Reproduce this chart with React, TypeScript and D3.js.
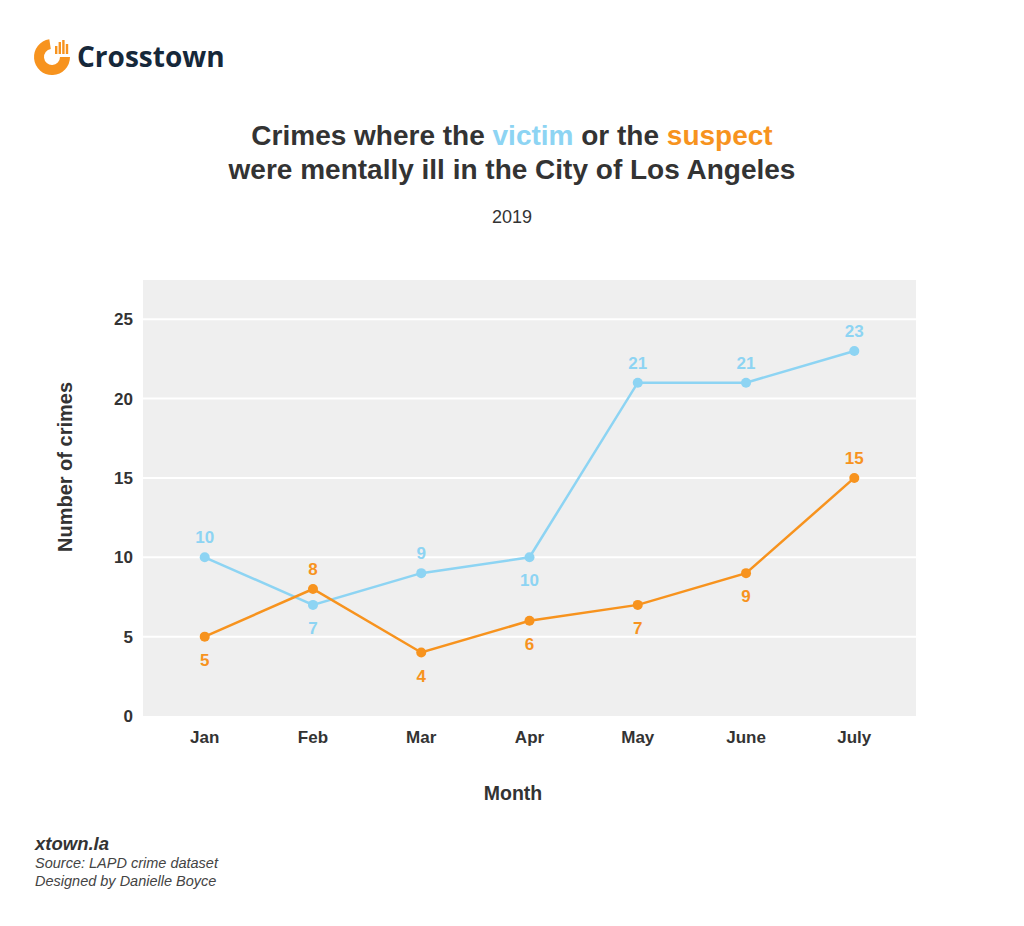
import React from "react";
import * as d3 from "d3";

const months = ["Jan", "Feb", "Mar", "Apr", "May", "June", "July"];
const victimValues = [10, 7, 9, 10, 21, 21, 23];
const suspectValues = [5, 8, 4, 6, 7, 9, 15];
const victimLabelPos = ["above", "below", "above", "below", "above", "above", "above"];
const suspectLabelPos = ["below", "above", "below", "below", "below", "below", "above"];
const yTicks = [0, 5, 10, 15, 20, 25];

const BLUE = "#8dd4f3";
const ORANGE = "#f7931e";
const TEXT = "#333333";
const FONT = "'Liberation Sans', Arial, Helvetica, sans-serif";

export default function App() {
  const W = 1024, H = 926;
  const plot = { left: 143, right: 916, top: 280, bottom: 716 };
  const x = d3.scalePoint<string>().domain(months).range([plot.left, plot.right]).padding(0.57);
  const y = d3.scaleLinear().domain([0, 27.47]).range([plot.bottom, plot.top]);

  const line = d3.line<number>().x((_, i) => x(months[i])!).y((d) => y(d));

  const series = [
    { values: victimValues, pos: victimLabelPos, color: BLUE },
    { values: suspectValues, pos: suspectLabelPos, color: ORANGE },
  ];

  // logo arc
  const ring = d3.arc()({ innerRadius: 8, outerRadius: 18, startAngle: Math.PI * 0.5, endAngle: Math.PI * 2 - 0.15 }) as string;
  const bars = [8, 12, 14, 10];

  return (
    <svg width={W} height={H} style={{ position: "absolute", left: 0, top: 0, fontFamily: FONT }}>
      <rect width={W} height={H} fill="#ffffff" />
      {/* Logo */}
      <g transform="translate(52,57)">
        <path d={ring} fill={ORANGE} />
        {bars.map((h, i) => (
          <rect key={i} x={3 + i * 3.6} y={-3 - h} width={2.4} height={h} fill={ORANGE} />
        ))}
      </g>
      <text x={77} y={67} fontSize={28} fontWeight={700} fill="#16283a" fontFamily="'Open Sans', 'Noto Sans', sans-serif">
        Crosstown
      </text>

      {/* Title */}
      <text x={512} y={145} textAnchor="middle" fontSize={28} fontWeight={700} fill={TEXT}>
        <tspan>Crimes where the </tspan>
        <tspan fill={BLUE}>victim</tspan>
        <tspan> or the </tspan>
        <tspan fill={ORANGE}>suspect</tspan>
      </text>
      <text x={512} y={179} textAnchor="middle" fontSize={28} fontWeight={700} fill={TEXT}>
        were mentally ill in the City of Los Angeles
      </text>
      <text x={512} y={223} textAnchor="middle" fontSize={18} fill={TEXT}>
        2019
      </text>

      {/* Plot background */}
      <rect x={plot.left} y={plot.top} width={plot.right - plot.left} height={plot.bottom - plot.top} fill="#efefef" />
      {yTicks.map((t) => (
        <g key={t}>
          {t > 0 && <line x1={plot.left} x2={plot.right} y1={y(t)} y2={y(t)} stroke="#ffffff" strokeWidth={2} />}
          <text x={133} y={y(t) + 6} textAnchor="end" fontSize={17} fontWeight={700} fill={TEXT}>
            {t}
          </text>
        </g>
      ))}
      {months.map((m) => (
        <text key={m} x={x(m)} y={743} textAnchor="middle" fontSize={17} fontWeight={700} fill={TEXT}>
          {m}
        </text>
      ))}

      {series.map((s, si) => (
        <g key={si}>
          <path d={line(s.values)!} fill="none" stroke={s.color} strokeWidth={2.5} />
          {s.values.map((v, i) => (
            <circle key={i} cx={x(months[i])} cy={y(v)} r={5} fill={s.color} />
          ))}
          {s.values.map((v, i) => (
            <text
              key={"l" + i}
              x={x(months[i])}
              y={s.pos[i] === "above" ? y(v) - 14 : y(v) + 29}
              textAnchor="middle"
              fontSize={17}
              fontWeight={700}
              fill={s.color}
            >
              {v}
            </text>
          ))}
        </g>
      ))}

      {/* Axis titles */}
      <text transform="translate(72,467) rotate(-90)" textAnchor="middle" fontSize={20} fontWeight={700} fill={TEXT}>
        Number of crimes
      </text>
      <text x={513} y={800} textAnchor="middle" fontSize={19.5} fontWeight={700} fill={TEXT}>
        Month
      </text>

      {/* Footer */}
      <text x={35} y={850} fontSize={18.5} fontWeight={700} fontStyle="italic" fill={TEXT}>
        xtown.la
      </text>
      <text x={35} y={868} fontSize={14.5} fontStyle="italic" fill="#444">
        Source: LAPD crime dataset
      </text>
      <text x={35} y={886} fontSize={14.5} fontStyle="italic" fill="#444">
        Designed by Danielle Boyce
      </text>
    </svg>
  );
}
